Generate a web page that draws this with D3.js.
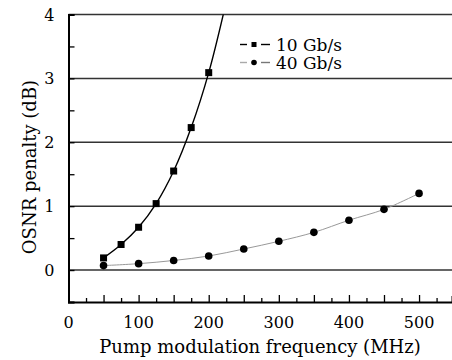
<!DOCTYPE html>
<html>
<head>
<meta charset="utf-8">
<script src="https://cdn.jsdelivr.net/npm/d3@7"></script>
<style>
  body { margin: 0; background: #fff; }
  text { font-family: "DejaVu Serif", serif; fill: #000; }
</style>
</head>
<body>
<svg width="452" height="360"></svg>
<script>
  // data
  const freq10 = [50, 75, 100, 125, 150, 175, 200, 225];
  const pen10 = [0.19, 0.40, 0.67, 1.04, 1.55, 2.23, 3.09, 4.2];
  const freq40 = [50, 100, 150, 200, 250, 300, 350, 400, 450, 500];
  const pen40 = [0.07, 0.10, 0.15, 0.22, 0.33, 0.45, 0.59, 0.78, 0.95, 1.20];
  const xTicks = [0, 100, 200, 300, 400, 500];
  const yTicks = [0, 1, 2, 3, 4];
  const seriesNames = ['10 Gb/s', '40 Gb/s'];

  const svg = d3.select('svg');
  const margin = { top: 14.5, right: 0, bottom: 58, left: 68.5 };
  const width = +svg.attr('width');
  const height = +svg.attr('height');
  const innerWidth = width - margin.left - margin.right;
  const innerHeight = height - margin.top - margin.bottom;

  const xScale = d3.scaleLinear().domain([0, 547]).range([0, innerWidth]);
  const yScale = d3.scaleLinear().domain([-0.5, 4]).range([innerHeight, 0]);

  const g = svg.append('g')
    .attr('transform', `translate(${margin.left},${margin.top})`);

  svg.append('defs').append('clipPath').attr('id', 'clip')
    .append('rect').attr('width', innerWidth).attr('height', innerHeight);

  // horizontal grid lines
  g.selectAll('.grid').data(yTicks).enter().append('line')
    .attr('x1', 0).attr('x2', innerWidth)
    .attr('y1', d => yScale(d)).attr('y2', d => yScale(d))
    .attr('stroke', '#333').attr('stroke-width', 1.5);

  // x axis: ticks pointing inward
  const xAxis = d3.axisBottom(xScale)
    .tickValues(d3.range(0, 550, 25))
    .tickSize(-6)
    .tickFormat('');
  const xAxisG = g.append('g')
    .attr('transform', `translate(0,${innerHeight})`)
    .call(xAxis);
  xAxisG.selectAll('.tick line')
    .attr('y2', d => d % 50 === 0 ? -7 : -4)
    .attr('stroke-width', 1.3);
  xAxisG.select('.domain').attr('stroke-width', 2);
  xAxisG.selectAll('.lab').data(xTicks).enter().append('text')
    .attr('x', d => xScale(d)).attr('y', 26)
    .attr('text-anchor', 'middle')
    .style('font-size', '16px')
    .text(d => d);

  const yAxis = d3.axisLeft(yScale)
    .tickValues(d3.range(-0.5, 4.01, 0.5))
    .tickSize(-6)
    .tickFormat('');
  const yAxisG = g.append('g').call(yAxis);
  yAxisG.selectAll('.tick line').attr('stroke-width', 1.3);
  yAxisG.select('.domain').attr('stroke-width', 2);
  yAxisG.selectAll('.lab').data(yTicks).enter().append('text')
    .attr('x', -14).attr('y', d => yScale(d) + 6)
    .attr('text-anchor', 'end')
    .style('font-size', '16px')
    .text(d => d);

  // axis labels
  svg.append('text')
    .attr('x', 260).attr('y', 353)
    .attr('text-anchor', 'middle')
    .style('font-size', '18px')
    .text('Pump modulation frequency (MHz)');
  svg.append('text')
    .attr('transform', 'translate(36,167) rotate(-90)')
    .attr('text-anchor', 'middle')
    .style('font-size', '18px')
    .text('OSNR penalty (dB)');

  const line = d3.line()
    .x(d => xScale(d[0]))
    .y(d => yScale(d[1]))
    .curve(d3.curveCatmullRom);

  const data10 = freq10.map((f, i) => [f, pen10[i]]);
  const data40 = freq40.map((f, i) => [f, pen40[i]]);

  const plot = g.append('g').attr('clip-path', 'url(#clip)');
  plot.append('path').datum(data40)
    .attr('d', line).attr('fill', 'none')
    .attr('stroke', '#999').attr('stroke-width', 1);
  plot.append('path').datum(data10)
    .attr('d', line).attr('fill', 'none')
    .attr('stroke', '#000').attr('stroke-width', 1.4);

  plot.selectAll('.sq').data(data10.filter(d => d[1] <= 4)).enter().append('rect')
    .attr('x', d => xScale(d[0]) - 3.5).attr('y', d => yScale(d[1]) - 3.5)
    .attr('width', 7).attr('height', 7).attr('fill', '#000');
  plot.selectAll('.dot').data(data40).enter().append('circle')
    .attr('cx', d => xScale(d[0])).attr('cy', d => yScale(d[1]))
    .attr('r', 3.8).attr('fill', '#000');

  // legend: dash, marker, dash
  const legend = svg.append('g').attr('transform', 'translate(240,44.5)');
  seriesNames.forEach((name, i) => {
    const row = legend.append('g').attr('transform', `translate(0,${i * 18})`);
    const col = i === 0 ? '#000' : '#aaa';
    row.append('line').attr('x1', 0).attr('x2', 7)
      .attr('stroke', col).attr('stroke-width', 1.4);
    row.append('line').attr('x1', 21).attr('x2', 30)
      .attr('stroke', i === 0 ? '#000' : '#777').attr('stroke-width', 1.4);
    if (i === 0) {
      row.append('rect').attr('x', 11.5).attr('y', -2.5).attr('width', 5).attr('height', 5).attr('fill', '#000');
    } else {
      row.append('circle').attr('cx', 14).attr('cy', 0).attr('r', 2.8).attr('fill', '#000');
    }
    row.append('text').attr('x', 36).attr('y', 6)
      .style('font-size', '17px').text(name);
  });
</script>
</body>
</html>
